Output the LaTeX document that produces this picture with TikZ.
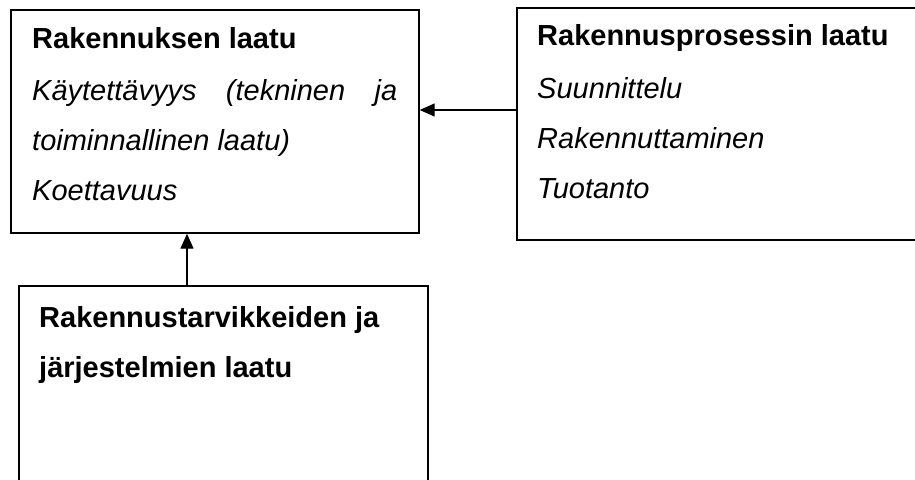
\documentclass[tikz,border=0pt]{standalone}
\usepackage{fontspec}
\setmainfont{Liberation Sans}
\usetikzlibrary{arrows.meta}
\begin{document}
\begin{tikzpicture}[x=1pt,y=-1pt,
  qbox/.style={draw, line width=1.4pt, rectangle, anchor=north west,
    outer sep=0pt, inner sep=0pt},
  head/.style={anchor=base west, inner sep=0pt, font=\fontsize{29}{35}\selectfont\bfseries},
  item/.style={anchor=base west, inner sep=0pt, font=\fontsize{29}{35}\selectfont\itshape},
  link/.style={line width=1.4pt, -{Triangle[length=15pt,width=13pt]}, shorten >=0.7pt}]
  \useasboundingbox (0,0) rectangle (915,479);
  \clip (0,0) rectangle (915,479);
  % the three boxes
  \node[qbox, minimum width=408pt, minimum height=223pt] (b1) at (11,10) {};
  \node[qbox, minimum width=420pt, minimum height=232pt] (b2) at (517,8) {};
  \node[qbox, minimum width=409pt, minimum height=220pt] (b3) at (19,286) {};
  % building quality
  \node[head] (t1) at (32,48) {Rakennuksen laatu};
  \node[item] (t1a) at (32,100) {\makebox[365pt][s]{Käytettävyys (tekninen ja}};
  \node[item] (t1b) at (32,150) {toiminnallinen laatu)};
  \node[item] (t1c) at (32,200) {Koettavuus};
  % construction process quality
  \node[head] (t2) at (537,45) {Rakennusprosessin laatu};
  \node[item] (t2a) at (537,98) {Suunnittelu};
  \node[item] (t2b) at (537,148) {Rakennuttaminen};
  \node[item] (t2c) at (537,198) {Tuotanto};
  % materials and systems quality
  \node[head] (t3) at (39,327) {Rakennustarvikkeiden ja};
  \node[head] (t3a) at (39,377) {järjestelmien laatu};
  % connectors
  \coordinate (hy) at (0,110);
  \coordinate (vx) at (187,0);
  \draw[link] (b2.west |- hy) -- (b1.east |- hy);
  \draw[link] (b3.north -| vx) -- (b1.south -| vx);
\end{tikzpicture}
\end{document}
